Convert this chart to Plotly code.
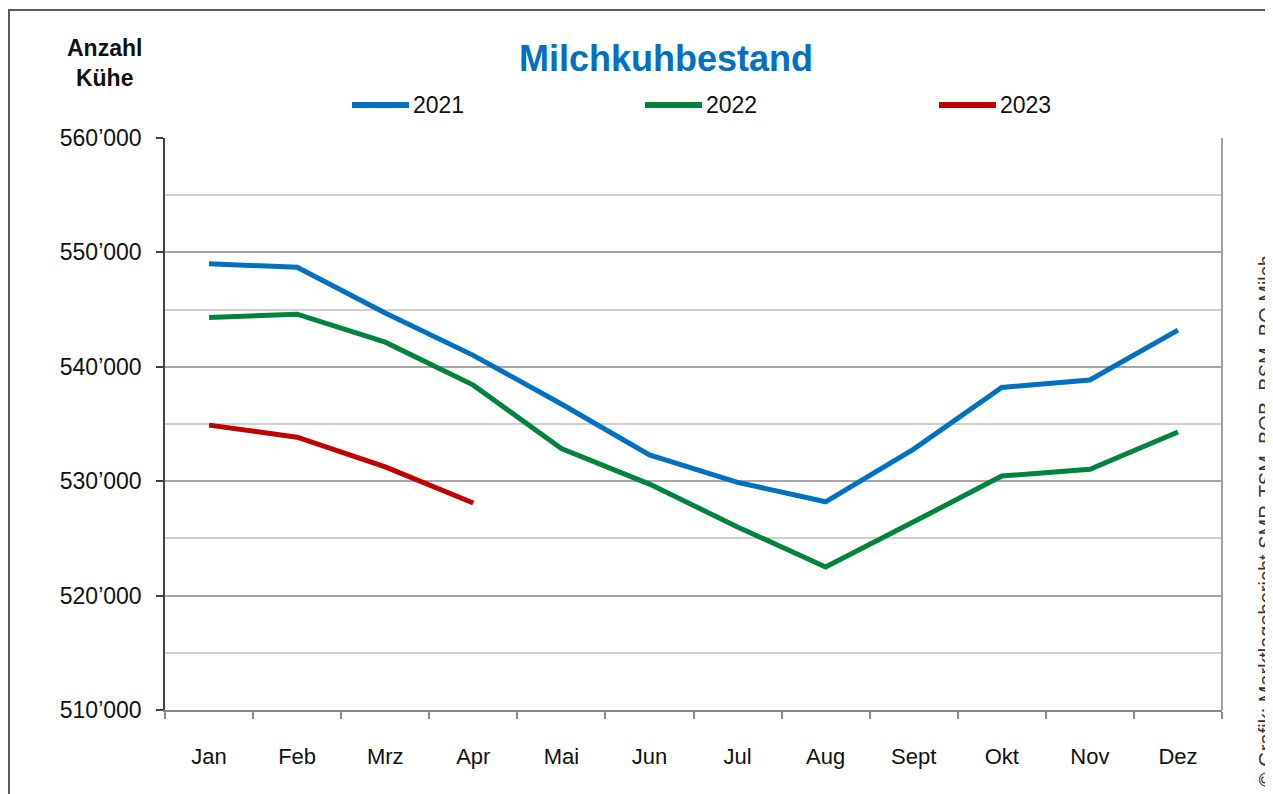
import plotly.graph_objects as go

months = ["Jan", "Feb", "Mrz", "Apr", "Mai", "Jun", "Jul", "Aug", "Sept", "Okt", "Nov", "Dez"]
y2021 = [549000, 548700, 544700, 541000, 536750, 532300, 529900, 528200, 532800, 538200, 538850, 543200]
y2022 = [544300, 544600, 542150, 538400, 532850, 529750, 526000, 522500, 526450, 530450, 531050, 534300]
y2023 = [534900, 533850, 531250, 528100]
series_names = ["2021", "2022", "2023"]
series_colors = ["#0070C0", "#00843D", "#C00000"]
ytick_vals = [510000, 520000, 530000, 540000, 550000, 560000]
ytick_text = [f"{v:,}".replace(",", "\u2019") for v in ytick_vals]

# page body has an 8px margin: work in reference-pixel coordinates and shift
OFF = 8
W, H = 1273 - OFF, 794 - OFF
L, R, T, B = 165 - OFF, 1222 - OFF, 138 - OFF, 710 - OFF


def px(x):
    return (x - OFF - L) / (R - L)


def py(y):
    return (B - (y - OFF)) / (B - T)


FONT = "Liberation Sans, Arial, sans-serif"

fig = go.Figure()
for name, vals, col in zip(series_names, [y2021, y2022, y2023], series_colors):
    fig.add_trace(go.Scatter(x=months[:len(vals)], y=vals, mode="lines", name=name,
                             line=dict(color=col, width=5), showlegend=False))

shapes = []
annotations = []
# outer border
shapes.append(dict(type="rect", xref="paper", yref="paper", x0=px(9), x1=px(1300), y0=py(820), y1=py(10),
                   line=dict(color="#5a5a5a", width=2), layer="below"))
# plot area border (right side)
shapes.append(dict(type="line", xref="paper", yref="paper", x0=1, x1=1, y0=0, y1=1,
                   line=dict(color="#a0a0a0", width=2)))
# manual legend
leg_x = [350, 643, 937]
for name, col, lx in zip(series_names, series_colors, leg_x):
    shapes.append(dict(type="line", xref="paper", yref="paper", x0=px(lx + 2), x1=px(lx + 59), y0=py(105), y1=py(105),
                       line=dict(color=col, width=6)))
    annotations.append(dict(xref="paper", yref="paper", x=px(lx + 61), y=py(105), text=name, showarrow=False,
                            xanchor="left", yanchor="middle", font=dict(family=FONT, size=23, color="#111111")))
# y axis label
annotations.append(dict(xref="paper", yref="paper", x=px(104), y=py(63), text="<b>Anzahl<br>Kühe</b>", showarrow=False,
                        xanchor="center", yanchor="middle", font=dict(family=FONT, size=23, color="#111111")))
# source
annotations.append(dict(xref="paper", yref="paper", x=px(1266), y=py(521), textangle=-90,
                        text="© Grafik: Marktlagebericht SMP, TSM, BOB, BSM, BO Milch", showarrow=False,
                        xanchor="center", yanchor="middle", font=dict(family=FONT, size=20, color="#333333")))

fig.update_layout(
    width=W, height=H,
    margin=dict(l=L, r=W - R, t=T, b=H - B),
    paper_bgcolor="white", plot_bgcolor="white",
    title=dict(text="<b>Milchkuhbestand</b>", x=(666 - OFF) / W, xref="container", xanchor="center",
               y=1 - (58 - OFF) / H, yref="container", yanchor="middle",
               font=dict(family=FONT, size=36, color="#0070C0")),
    shapes=shapes, annotations=annotations,
    xaxis=dict(type="category", range=[-0.5, 11.5], tickson="boundaries", ticks="outside", ticklen=7,
               tickcolor="#888888", tickwidth=2, showline=True, linecolor="#888888", linewidth=2,
               showgrid=False, tickfont=dict(family=FONT, size=22, color="#111111"),
               ticklabelstandoff=26),
    yaxis=dict(range=[510000, 560000], tickvals=ytick_vals, ticktext=ytick_text, ticks="outside", ticklen=7,
               tickcolor="#404040", tickwidth=1.5, showline=True, linecolor="#404040", linewidth=1.5,
               showgrid=True, gridcolor="#a6a6a6", gridwidth=1.5, zeroline=False,
               minor=dict(dtick=5000, tick0=510000, showgrid=True, gridcolor="#cfcfcf", gridwidth=1.5),
               tickfont=dict(family=FONT, size=23, color="#111111"), ticklabelstandoff=10),
)

fig.write_html("out.html")
